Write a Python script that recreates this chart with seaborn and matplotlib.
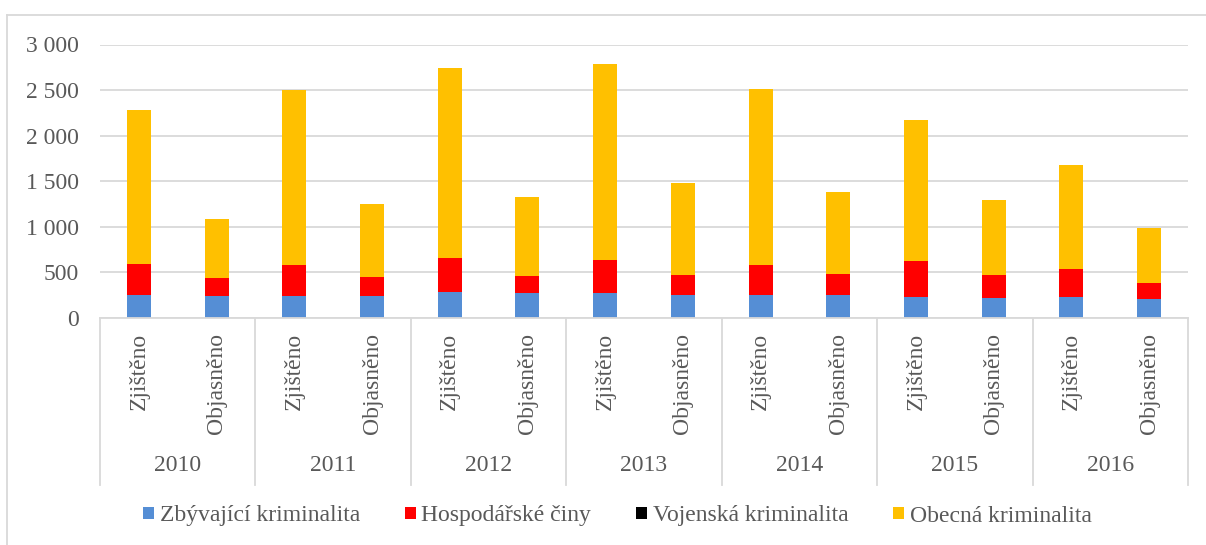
import numpy as np
import pandas as pd
import matplotlib
matplotlib.use("Agg")
import matplotlib.pyplot as plt
import seaborn as sns
from matplotlib.lines import Line2D
from matplotlib.patches import Patch
from matplotlib.ticker import FuncFormatter

# data
years = ["2010", "2011", "2012", "2013", "2014", "2015", "2016"]
kinds = ["Zjištěno", "Objasněno"]
zbyvajici = [251, 236, 236, 236, 280, 273, 269, 255, 255, 247, 225, 214, 233, 211]
hospodarske = [344, 201, 349, 209, 374, 191, 363, 215, 325, 234, 399, 256, 307, 171]
vojenska = [1, 1, 1, 1, 1, 1, 1, 1, 1, 1, 1, 1, 1, 1]
obecna = [1684, 652, 1914, 809, 2084, 859, 2153, 1010, 1930, 901, 1545, 820, 1135, 608]

series_names = ["Zbývající kriminalita", "Hospodářské činy", "Vojenská kriminalita", "Obecná kriminalita"]
colors = ["#558ED5", "#FF0000", "#000000", "#FFC000"]

keys = [f"{y} {k}" for y in years for k in kinds]
df = pd.DataFrame({
    "key": keys,
    "s0": zbyvajici,
    "s1": hospodarske,
    "s2": vojenska,
    "s3": obecna,
})
# cumulative heights for stacking
df["c0"] = df["s0"]
df["c1"] = df["c0"] + df["s1"]
df["c2"] = df["c1"] + df["s2"]
df["c3"] = df["c2"] + df["s3"]

plt.rcParams["font.family"] = ["Liberation Serif", "DejaVu Serif"]
txt_color = "#595959"
grid_color = "#D9D9D9"
fs = 17

fig = plt.figure(figsize=(12.06, 5.45), dpi=100)
ax = fig.add_axes([100 / 1206, 1 - 318 / 545, 1088 / 1206, 273.5 / 545])

# draw tallest first so each lower layer sits on top
for col, c in zip(["c3", "c2", "c1", "c0"], colors[::-1]):
    sns.barplot(data=df, x="key", y=col, order=keys, color=c, width=0.31,
                saturation=1, errorbar=None, linewidth=0, ax=ax)

ax.set_xlim(-0.5, len(keys) - 0.5)
ax.set_ylim(0, 3000)
ax.set_yticks(np.arange(0, 3001, 500))
ax.yaxis.set_major_formatter(FuncFormatter(lambda v, p: f"{v:,.0f}".replace(",", " ")))
ax.set_xlabel("")
ax.set_ylabel("")
ax.grid(axis="y", color=grid_color, linewidth=1.3)
ax.set_axisbelow(True)
for s in ["top", "right", "left"]:
    ax.spines[s].set_visible(False)
ax.spines["bottom"].set_color(grid_color)
ax.spines["bottom"].set_linewidth(1.3)
ax.tick_params(axis="y", length=0, pad=15, labelsize=fs, labelcolor=txt_color)
ax.set_xticks(range(len(keys)))
ax.set_xticklabels([k for y in years for k in kinds], rotation=90)
ax.tick_params(axis="x", length=0, pad=11, labelsize=fs, labelcolor=txt_color)

# year group labels and separators
trans = ax.get_xaxis_transform()
for i, y in enumerate(years):
    ax.text(2 * i + 0.5, -0.541, y, transform=trans, ha="center", va="center",
            fontsize=fs, color=txt_color)
for i in range(len(years) + 1):
    ax.add_line(Line2D([2 * i - 0.5, 2 * i - 0.5], [0, -0.61], transform=trans,
                       color=grid_color, linewidth=1.3, clip_on=False))

handles = [Patch(facecolor=c, edgecolor="none") for c in colors]
fig.legend(handles, series_names, loc="center", bbox_to_anchor=(0.512, 1 - 516 / 545),
           ncol=4, frameon=False, fontsize=fs, labelcolor=txt_color,
           handlelength=0.45, handleheight=0.45, handletextpad=0.25, columnspacing=1.9)

# chart frame (cropped on right and bottom)
fx = 7 / 1206
fy = 1 - 15 / 545
fig.add_artist(Line2D([fx, 1], [fy, fy], transform=fig.transFigure, color=grid_color, linewidth=1.3))
fig.add_artist(Line2D([fx, fx], [0, fy], transform=fig.transFigure, color=grid_color, linewidth=1.3))

fig.savefig("out.png", dpi=100)
